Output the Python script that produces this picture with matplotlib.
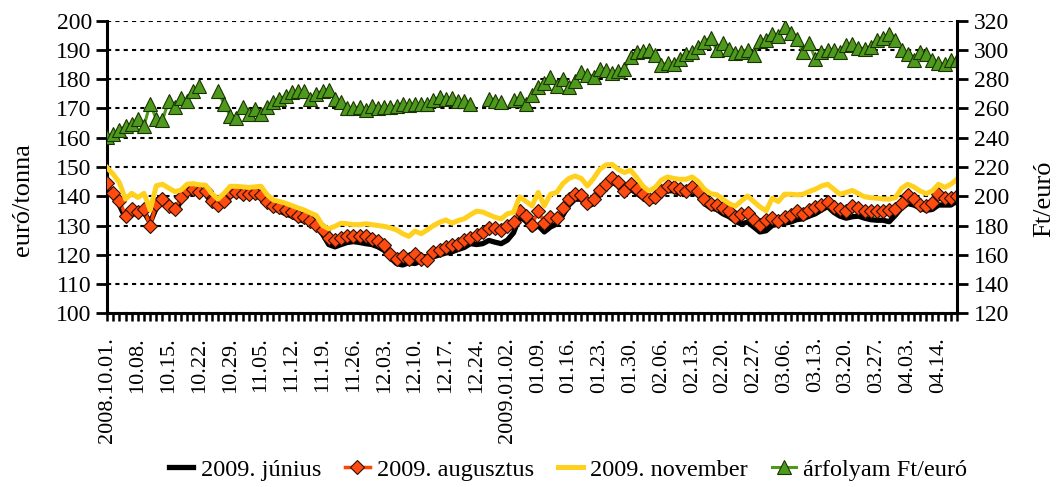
import numpy as np
import matplotlib.pyplot as plt

# every 5th trading day gets a label
tick_labels = ['2008.10.01.', '10.08.', '10.15.', '10.22.', '10.29.', '11.05.', '11.12.',
               '11.19.', '11.26.', '12.03.', '12.10.', '12.17.', '12.24.', '2009.01.02.',
               '01.09.', '01.16.', '01.23.', '01.30.', '02.06.', '02.13.', '02.20.',
               '02.27.', '03.06.', '03.13.', '03.20.', '03.27.', '04.03.', '04.14.']
label_step = 5

# euro/tonna (left axis)
junius = [143.5, 140, 137, 132.5, 134.5, 133.5, 134.5, 131, 136, 138, 136, 134.5, 138.5, 141,
          141.5, 141, 141, 137.5, 136, 137.5, 140.5, 140.5, 140, 140, 140.2, 139.5, 137, 135.8,
          135, 134, 133.2, 132.2, 131.5, 131,
          129.5, 127, 123.5, 122.7, 123.5, 124.2, 124.5, 124.2, 123.8, 123.5, 122.7, 121.5, 119,
          117, 116.5, 117.3, 117, 118, 118.8, 119.3, 120, 120.6, 121, 121.8, 122.5, 123.8, 123.5,
          123.8, 124.9, 124.3, 123.8, 125, 127.5, 133, 131.5,
          128.5, 130, 127.8, 129.5, 130.5, 133.5, 137, 139, 139, 136.5, 137.5, 141, 143, 145,
          143.5, 140.5, 142.5, 141, 139.5, 138, 138.5, 140.5, 142, 141.8, 141, 140.8, 141.5,
          140.5, 137.5, 136, 135.5, 134, 133, 131.5,
          130.5, 131.2, 129.5, 127.8, 128.2, 130, 130.5, 130.8, 131.2, 132, 132.3, 133.2, 134,
          135.3, 136.5, 134.5, 133.2, 132.5, 133, 133.2, 132.5, 132, 131.8, 131.8, 131.3, 133.5,
          136, 137.5, 137, 136, 135.2, 135.5, 137, 137, 137, 138.3]
augusztus = [144.5, 141, 138.5, 133.4, 135.6, 134.5, 135.6, 130, 137.3, 139, 136.8, 135.6, 139.6,
             142, 142.4, 141.6, 141.9, 138.5, 137.1, 138.5, 141.3, 141.3, 140.7, 140.7, 141,
             140.5, 138.1, 136.8, 136.2, 135.3, 134.5, 133.4, 132.8, 131.7,
             130.3, 128.3, 125.8, 125.1, 125.8, 126.3, 126.5, 126.3, 126.3, 125.5, 124.7, 123.2,
             120.2, 118.7, 119.5, 118.7, 120.2, 118.7, 118.1, 121, 121.8, 122.7, 123.2, 123.8,
             124.9, 125.8, 126.6, 127.7, 129.2, 129.2, 128.3, 129.7, 131.1, 134.9, 133.2,
             130.2, 135, 131, 133, 132.5, 135.9, 139, 140.9, 140.5, 137.8, 139, 142, 144.3, 146.1,
             144.7, 141.8, 144.1, 142.4, 140.7, 139, 139.8, 141.8, 143.5, 143.2, 142.4, 141.8,
             143, 141.8, 139, 137.5, 137, 135.9, 134.9, 132.8,
             134.1, 134.4, 131.8, 130.2, 131.8, 132.5, 131.6, 133, 133.6, 135, 133.9, 135.2, 136.4,
             137, 138.2, 136.4, 135.6, 135, 136.7, 136.1, 135, 135, 135, 135, 135.2, 135.6, 137.8,
             140.5, 139, 137, 136.7, 137.8, 140.7, 139.5, 139.5, 140.1]
november = [149.8, 147.5, 144.7, 139, 141, 139.6, 141, 135.3, 143.6, 144.1, 142.8, 141.6, 142.1,
            144.1, 144.3, 143.9, 143.8, 141, 139, 141, 143.4, 143.4, 143.2, 143, 143.2, 143.4,
            140.5, 138.7, 138.2, 137.6, 136.8, 136, 135.3, 134.3,
            133.4, 130, 128.9, 129.7, 130.8, 130.6, 130.3, 130.3, 130.6, 130.3, 130, 129.7, 129.2,
            128.5, 127.2, 126.3, 128.1, 127.2, 128.5, 130, 131.1, 131.9, 130.8, 131.7, 132.3,
            133.7, 134.9, 134.6, 133.7, 132.8, 132.3, 134, 134.5, 139.8, 138.3,
            136.7, 141.3, 136.7, 140.7, 141.3, 144.3, 146.1, 146.9, 146.1, 143.5, 146.1, 149.2,
            150.7, 150.9, 149.2, 148.1, 148.9, 146.4, 143.5, 141.8, 143, 145.5, 146.6, 146.1,
            145.8, 145.8, 146.6, 145, 142.4, 140.9, 140.5, 139, 137.5, 136.6,
            138.4, 140.1, 138.2, 136.4, 135, 139.3, 138.2, 140.7, 140.7, 140.5, 140.7, 141.6,
            142.4, 143.5, 144.1, 142.4, 140.7, 141.3, 142, 140.9, 139.8, 139.5, 139.3, 139.1, 139,
            139.5, 142.7, 144.1, 143.2, 141.8, 140.9, 141.8, 144.1, 143, 144.1, 145.8]

# Ft/euro (right axis), nan = no quote that day
nan = np.nan
arfolyam = [240.5, 242.8, 245, 248, 249.2, 252.6, 248, 263.4, 252.6, 252, 265.3, 261.1, 267.1,
            265.3, 271.7, 275.2, nan, nan,
            271.7, 263.4, 255, 253.8, 260.7, 256.1, 259.5, 256.1, 261.1, 264.1,
            266.4, 268.7, 271, 271.7, 271.7, 266.4, 269.9, 272.2, 272.6, 266.4, 264.1, 260.2, 260.2,
            261.1, 258.9, 261.8, 260.2, 261.1, 260.7, 261.8, 263.4, 262.5, 263, 263, 263.4, 265.7,
            268, 266.4, 267.1, 265.3, 264.8, 263.4, nan, nan,
            266.4, 265.3, 264.1, nan,
            265.7, 267.1, 263.4, 269.4, 274.5, 277.2, 281.8, 275.6, 280.2, 274.9, 279.1, 284.8,
            283.2, 281.8, 287.1, 286.4, 284.1, 285.5, 287.1, 295.2, 298.6, 299.3, 300.2, 296.3,
            290, 290.8, 290.1, 294, 297.5, 298.6, 302.1, 305.5, 308.5, 299.8, 304.8, 300.9, 297.9,
            298.6, 300.2, 296.3, 306.2, 307.1, 310.8, 309.4, 315.9, 311.3, 307.8, 298.6, 304.8,
            294, 298.6, 299.8, 300.2, 298.6, 303.2, 304.4, 301.5,
            300.9, 302.1, 306.7, 308.5, 310.8, 307.1, 300.2, 297, 292.9, 298.6, 297.5, 292.9, 291,
            290.1, 292.9, 293.3]

plt.rcParams['font.family'] = ['Liberation Serif', 'DejaVu Serif']

fig = plt.figure(figsize=(10.62, 4.87), dpi=100)
ax = fig.add_axes([0.1008, 0.3567, 0.8003, 0.6008])
x = np.arange(len(junius))

l1, = ax.plot(x, junius, color='black', lw=3.8, zorder=3)
l2, = ax.plot(x, augusztus, color='#FF4500', lw=2.5, marker='D', ms=7.5,
              mfc='#FF4A12', mec='#2B1000', mew=0.8, zorder=4)
l3, = ax.plot(x, november, color='#FFD01E', lw=3.6, zorder=5)

ax2 = ax.twinx()
l4, = ax2.plot(x, arfolyam, color='#4E9A1E', lw=2.2, marker='^', ms=10.5,
               mfc='#4E9A1E', mec='#1B3300', mew=0.8)

ax.set_xlim(0, len(x) - 1)
ax.set_ylim(100, 200)
ax2.set_ylim(120, 320)
ax.set_yticks(np.arange(100, 201, 10))
ax2.set_yticks(np.arange(120, 321, 20))

ax.set_xticks(np.arange(0, label_step * len(tick_labels), label_step))
ax.set_xticklabels(tick_labels, rotation=90, fontsize=16)
ax.set_xticks(x, minor=True)

ax.grid(axis='y', color='black', lw=1.5, ls=(0, (2, 2)))
ax.set_axisbelow(True)

for s in ['top', 'right']:
    ax.spines[s].set_visible(False)
for s in ['top', 'left', 'bottom']:
    ax2.spines[s].set_visible(False)
ax.spines['left'].set_linewidth(2.2)
ax.spines['bottom'].set_linewidth(2.2)
ax2.spines['right'].set_linewidth(2.2)

ax.tick_params(axis='x', which='both', length=6, width=1.8, direction='out', pad=11)
ax.tick_params(axis='y', length=8, width=2, labelsize=17, pad=3)
ax2.tick_params(axis='y', length=8, width=2, labelsize=17, pad=4)

ax.set_ylabel('euró/tonna', fontsize=19)
ax.yaxis.set_label_coords(-0.086, 0.39)
ax2.set_ylabel('Ft/euró', fontsize=19)
ax2.yaxis.set_label_coords(1.09, 0.39)

fig.legend([l1, l2, l3, l4], ['2009. június', '2009. augusztus', '2009. november', 'árfolyam Ft/euró'],
           loc='center', bbox_to_anchor=(0.535, 0.035), ncol=4, frameon=False, fontsize=17.5,
           handlelength=1.0, handletextpad=0.3, columnspacing=1.0, numpoints=1)

fig.savefig('out.png', dpi=100)
